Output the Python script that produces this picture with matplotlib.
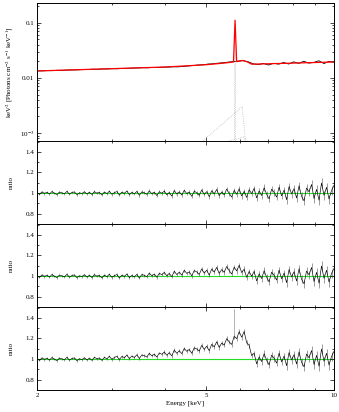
import numpy as np
import matplotlib
matplotlib.use('Agg')
import matplotlib.pyplot as plt
from matplotlib.ticker import FixedLocator, NullFormatter, FixedFormatter, MultipleLocator

plt.rcParams['font.family'] = ['Liberation Serif', 'DejaVu Serif']
plt.rcParams['mathtext.fontset'] = 'stix'

# ---------------- data ----------------
# ratio panels: 120 bins from 2 to 10 keV
n_bins = 120
ratio_best = [
    1.004, 0.987, 1.012, 0.996, 1.008, 0.990, 1.015, 0.998, 0.985, 1.010,
    1.002, 0.993, 1.017, 0.989, 1.006, 1.011, 0.984, 1.003, 0.995, 1.013,
    0.991, 1.008, 0.986, 1.014, 0.999, 1.006, 0.982, 1.010, 0.994, 1.018,
    0.988, 1.004, 1.015, 0.981, 1.009, 0.996, 1.020, 0.985, 1.007, 0.992,
    1.016, 0.979, 1.011, 1.002, 0.987, 1.021, 0.993, 1.008, 0.976, 1.013,
    0.998, 1.019, 0.984, 1.006, 0.971, 1.024, 0.990, 1.012, 0.981, 1.027,
    0.995, 1.009, 0.969, 1.018, 1.003, 0.978, 1.030, 0.987, 1.014, 0.965,
    1.022, 0.992, 1.035, 0.975, 1.011, 0.983, 1.038, 0.997, 0.962, 1.026,
    0.988, 1.041, 0.972, 1.017, 0.958, 1.033, 0.994, 1.046, 0.953, 1.021,
    0.976, 1.052, 0.989, 0.944, 1.038, 1.007, 0.961, 1.058, 0.973, 1.029,
    0.936, 1.064, 0.991, 1.043, 0.952, 1.071, 0.968, 0.925, 1.049, 1.012,
    1.083, 0.947, 1.036, 0.931, 1.098, 0.978, 1.056, 0.942, 1.024, 1.075,
]
# 1-sigma error of the ratio, one value per group of 10 bins
ratio_err_groups = [0.010, 0.010, 0.011, 0.012, 0.014, 0.016, 0.018, 0.022, 0.026, 0.032, 0.038, 0.044]
# excess of the ratio when the broad line is left out (panel 3), starting at bin 41
excess_p3_start = 41
excess_p3 = [
    0.002, 0.004, 0.005, 0.007, 0.008, 0.010, 0.011, 0.013, 0.014, 0.016,
    0.017, 0.019, 0.020, 0.022, 0.023, 0.025, 0.026, 0.028, 0.029, 0.031,
    0.032, 0.034, 0.035, 0.037, 0.038, 0.040, 0.041, 0.043, 0.044, 0.046,
    0.047, 0.049, 0.050, 0.052, 0.053, 0.055, 0.056, 0.058, 0.060, 0.062,
    0.064, 0.062, 0.050, 0.030, 0.012, 0.004,
]
# excess of the ratio when both lines are left out (panel 4), starting at bin 20
excess_p4_start = 20
excess_p4 = [
    0.000, 0.001, 0.002, 0.003, 0.004, 0.005, 0.006, 0.007, 0.008, 0.009,
    0.010, 0.011, 0.013, 0.014, 0.016, 0.017, 0.019, 0.020, 0.022, 0.023,
    0.025, 0.027, 0.029, 0.031, 0.033, 0.035, 0.038, 0.040, 0.043, 0.046,
    0.048, 0.050, 0.053, 0.056, 0.060, 0.063, 0.066, 0.069, 0.072, 0.076,
    0.080, 0.084, 0.087, 0.091, 0.095, 0.099, 0.103, 0.107, 0.111, 0.116,
    0.121, 0.126, 0.132, 0.138, 0.145, 0.152, 0.160, 0.170, 0.180, 0.195,
    0.210, 0.225, 0.240, 0.250, 0.200, 0.100, 0.040, 0.010,
]
spike_bin = 79
spike_ratio = 1.49

# top panel data: 60 bins, keV^2 (photons cm^-2 s^-1 keV^-1)
n_top = 60
flux_data = [
    0.01345, 0.01347, 0.01361, 0.01358, 0.01378, 0.01375, 0.01392, 0.01398, 0.01404, 0.01418,
    0.01425, 0.01441, 0.01434, 0.01459, 0.01457, 0.01474, 0.01469, 0.01492, 0.01495, 0.01512,
    0.01519, 0.01535, 0.01528, 0.01556, 0.01549, 0.01575, 0.01571, 0.01597, 0.01590, 0.01622,
    0.0165, 0.0168, 0.0172, 0.0174, 0.0179, 0.0181, 0.0186, 0.0189, 0.0194, 0.0198,
    0.0203, 0.0206, 0.0196, 0.0180, 0.0176, 0.0183, 0.0172, 0.0185, 0.0178, 0.0191,
    0.0179, 0.0196, 0.0184, 0.0201, 0.0186, 0.0192, 0.0205, 0.0183, 0.0199, 0.0194,
]
# total model (red)
model_E = [2.0, 4.0, 5.0, 5.5, 5.80, 5.85, 5.90, 6.1, 6.25, 6.4, 7.0, 10.0]
model_F = [0.0134, 0.0158, 0.0174, 0.0186, 0.0195, 0.112, 0.0198, 0.0208, 0.0196, 0.0178, 0.0181, 0.0195]
# model components (dotted grey)
narrow_E = [5.82, 5.85, 5.88]
narrow_F = [1e-5, 0.095, 1e-5]
broad_E = [4.5, 6.08, 6.22]
broad_F = [4e-4, 3.0e-3, 5e-4]
shoulder_E = [5.4, 6.15, 6.25]
shoulder_F = [6.5e-4, 8.5e-4, 5e-4]

x_ticks = [2, 5, 10]
x_minor = [3, 4, 6, 7, 8, 9]
top_ticks = [1e-3, 0.01, 0.1]
top_labels = ['10$^{-3}$', '0.01', '0.1']
ratio_ticks = [0.8, 1.0, 1.2, 1.4]
ratio_labels = ['0.8', '1', '1.2', '1.4']

# ---------------- derived ----------------
energy = np.geomspace(2, 10, n_bins)
energy_top = np.geomspace(2, 10, n_top)
r2 = np.array(ratio_best)
err = np.repeat(ratio_err_groups, 10)
pad3 = np.zeros(n_bins); pad3[excess_p3_start:excess_p3_start + len(excess_p3)] = excess_p3
pad4 = np.zeros(n_bins); pad4[excess_p4_start:excess_p4_start + len(excess_p4)] = excess_p4
r3 = r2 + pad3
r4 = r2 + pad4

# ---------------- figure ----------------
fig = plt.figure(figsize=(3.39, 4.12), dpi=100)
L, R = 37 / 339, 334 / 339
H = 412
def rect(top_px, bot_px):
    return [L, 1 - bot_px / H, R - L, (bot_px - top_px) / H]

ax0 = fig.add_axes(rect(3, 141))
ax1 = fig.add_axes(rect(141, 224), sharex=ax0)
ax2 = fig.add_axes(rect(224, 307), sharex=ax0)
ax3 = fig.add_axes(rect(307, 390), sharex=ax0)

for ax in (ax0, ax1, ax2, ax3):
    ax.set_xscale('log')
    ax.set_xlim(2, 10)
    ax.xaxis.set_major_locator(FixedLocator(x_ticks))
    ax.xaxis.set_minor_locator(FixedLocator(x_minor))
    ax.xaxis.set_minor_formatter(NullFormatter())
    ax.tick_params(which='both', direction='in', top=True, right=True,
                   labelsize=5, width=0.5, pad=2)
    ax.tick_params(which='major', length=3)
    ax.tick_params(which='minor', length=1.5)
    for s in ax.spines.values():
        s.set_linewidth(0.7)

for ax in (ax0, ax1, ax2):
    ax.tick_params(labelbottom=False)
ax3.xaxis.set_major_formatter(FixedFormatter([str(t) for t in x_ticks]))

# top panel
ax0.set_yscale('log')
ax0.set_ylim(7.16e-4, 0.23)
ax0.plot(energy_top, flux_data, color='black', lw=0.6)
ax0.plot(narrow_E, narrow_F, color='#aaaaaa', lw=0.5, ls=':')
ax0.plot(broad_E, broad_F, color='#aaaaaa', lw=0.5, ls=':')
ax0.plot(shoulder_E, shoulder_F, color='#aaaaaa', lw=0.5, ls=':')
ax0.plot(model_E, model_F, color='red', lw=0.9)
ax0.yaxis.set_major_locator(FixedLocator(top_ticks))
ax0.yaxis.set_major_formatter(FixedFormatter(top_labels))
ax0.set_ylabel('keV$^2$ [Photons cm$^{-2}$ s$^{-1}$ keV$^{-1}$]', fontsize=5, labelpad=3)

# ratio panels
for ax, r in ((ax1, r2), (ax2, r3), (ax3, r4)):
    ax.axhline(1.0, color='#22dd22', lw=0.8, zorder=1)
    ax.errorbar(energy, r, yerr=err, fmt='none', ecolor='#555555', elinewidth=0.4, zorder=2)
    ax.plot(energy, r, color='black', lw=0.45, zorder=3)
    ax.set_ylim(0.7, 1.505)
    ax.yaxis.set_major_locator(FixedLocator(ratio_ticks))
    ax.yaxis.set_major_formatter(FixedFormatter(ratio_labels))
    ax.yaxis.set_minor_locator(MultipleLocator(0.1))
    ax.set_ylabel('ratio', fontsize=5, labelpad=8)

ax3.plot([energy[spike_bin], energy[spike_bin]], [r4[spike_bin], spike_ratio],
         color='#999999', lw=0.5, zorder=2)

ax3.set_xlabel('Energy [keV]', fontsize=5, labelpad=2)

fig.savefig('out.png', dpi=100)
